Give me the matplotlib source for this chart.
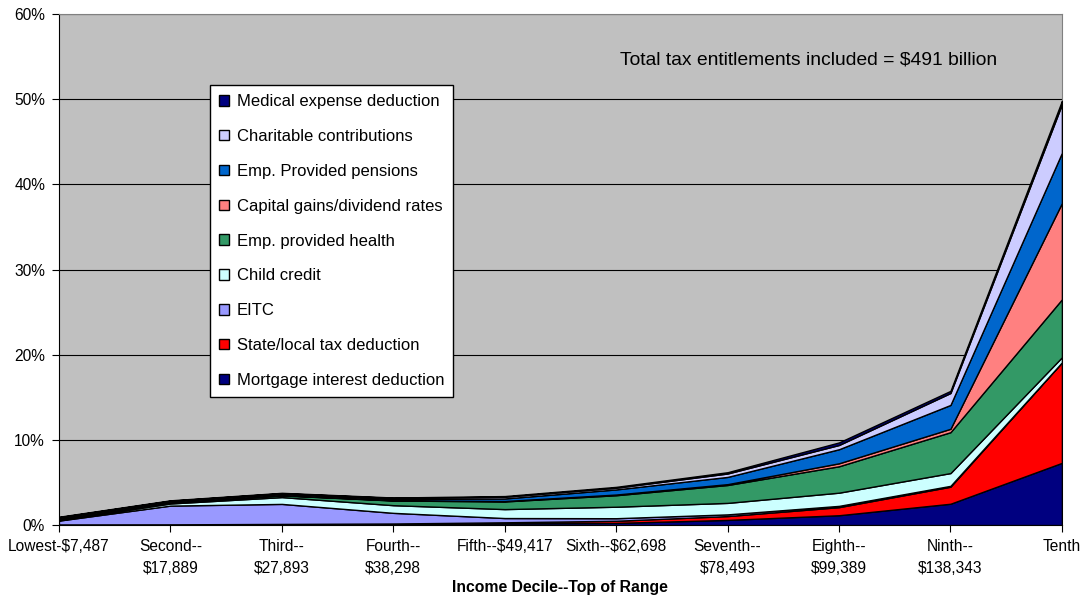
import matplotlib.pyplot as plt
import numpy as np

plt.rcParams['font.family'] = ['Liberation Sans', 'DejaVu Sans']

# income deciles (top of range)
deciles = ["Lowest-$7,487", "Second--\n$17,889", "Third--\n$27,893", "Fourth--\n$38,298",
           "Fifth--$49,417", "Sixth--$62,698", "Seventh--\n$78,493", "Eighth--\n$99,389",
           "Ninth--\n$138,343", "Tenth"]

# share of tax entitlements (%)
mortgage = [0.05, 0.05, 0.08, 0.10, 0.20, 0.25, 0.60, 1.15, 2.50, 7.30]
state_local = [0.02, 0.03, 0.05, 0.08, 0.12, 0.25, 0.45, 0.95, 2.00, 11.80]
eitc = [0.45, 2.20, 2.35, 1.25, 0.50, 0.30, 0.20, 0.15, 0.10, 0.00]
child_credit = [0.05, 0.25, 0.80, 0.90, 1.05, 1.35, 1.35, 1.55, 1.50, 0.60]
emp_health = [0.10, 0.10, 0.20, 0.55, 0.90, 1.35, 2.10, 3.10, 4.80, 6.80]
cap_gains = [0.05, 0.05, 0.03, 0.03, 0.05, 0.08, 0.10, 0.35, 0.40, 11.30]
emp_pensions = [0.10, 0.07, 0.10, 0.12, 0.30, 0.60, 0.85, 1.65, 2.80, 5.90]
charitable = [0.10, 0.10, 0.12, 0.15, 0.20, 0.20, 0.40, 0.50, 1.40, 5.70]
medical = [0.05, 0.05, 0.05, 0.05, 0.08, 0.10, 0.15, 0.30, 0.25, 0.40]

series = [mortgage, state_local, eitc, child_credit, emp_health,
          cap_gains, emp_pensions, charitable, medical]
labels = ["Mortgage interest deduction", "State/local tax deduction", "EITC",
          "Child credit", "Emp. provided health", "Capital gains/dividend rates",
          "Emp. Provided pensions", "Charitable contributions", "Medical expense deduction"]
colors = ["#000080", "#FF0000", "#9999FF", "#CCFFFF", "#339966",
          "#FF8080", "#0066CC", "#CCCCFF", "#000080"]

fig = plt.figure(figsize=(10.88, 5.99), dpi=100)
ax = fig.add_axes([0.0542, 0.1235, 0.9218, 0.8531])
ax.set_facecolor("#C0C0C0")

x = np.arange(len(deciles))
polys = ax.stackplot(x, *series, colors=colors, edgecolor="black", linewidth=1.0, zorder=3)

ax.set_xlim(0, len(deciles) - 1)
ax.set_ylim(0, 60)
ax.set_yticks(np.arange(0, 61, 10))
ax.set_yticklabels([f"{v}%" for v in range(0, 61, 10)], fontsize=11.2)
ax.set_xticks(x)
ax.set_xticklabels(deciles, fontsize=11.2, linespacing=1.55)
ax.grid(axis="y", color="black", linewidth=0.8, zorder=1)
ax.set_axisbelow(True)
ax.tick_params(axis="both", direction="out", length=5, color="black", pad=5)
for side in ["top", "right"]:
    ax.spines[side].set_color("#808080")
for side in ["left", "bottom"]:
    ax.spines[side].set_color("black")

ax.set_xlabel("Income Decile--Top of Range", fontsize=11.3, fontweight="bold", labelpad=3)

ax.text(0.559, 0.91, "Total tax entitlements included = $491 billion",
        transform=ax.transAxes, fontsize=13.9, va="center", ha="left")

leg = ax.legend(polys[::-1], labels[::-1], loc="upper left",
                bbox_to_anchor=(0.1505, 0.861), borderaxespad=0,
                fontsize=12, frameon=True, fancybox=False, edgecolor="black",
                framealpha=1, labelspacing=1.19, handlelength=0.6, handleheight=0.6,
                handletextpad=0.45, borderpad=0.55)
leg.get_frame().set_linewidth(1.0)
leg.set_zorder(5)

fig.savefig("out.png", dpi=100)
